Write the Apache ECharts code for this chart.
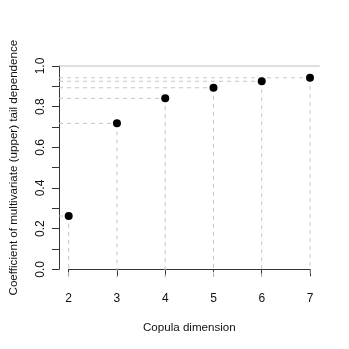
<!DOCTYPE html>
<html>
<head>
<meta charset="utf-8">
<script src="https://cdn.jsdelivr.net/npm/echarts@6/dist/echarts.min.js"></script>
<style>html,body{margin:0;padding:0;background:#fff;}#c{width:349px;height:349px;}</style>
</head>
<body>
<div id="c"></div>
<script>
var dimensions = [2, 3, 4, 5, 6, 7];
var tailDep = [0.262, 0.718, 0.841, 0.893, 0.925, 0.942];
var xTicks = [2, 3, 4, 5, 6, 7];
var yTickLabels = ['0.0', '0.2', '0.4', '0.6', '0.8', '1.0'];
var referenceLevel = [1.0];

var xLo = 1.8, xHi = 7.2, yLo = -0.04;
var pts = dimensions.map(function (d, i) { return [d, tailDep[i]]; });

var chart = echarts.init(document.getElementById('c'), null, {renderer: 'canvas'});
var font = 'Liberation Sans, Arial, Helvetica, sans-serif';
chart.setOption({
  animation: false,
  backgroundColor: '#fff',
  grid: {left: 66.7, right: 39, top: 66, bottom: 79.7, containLabel: false},
  xAxis: {
    type: 'value', min: 2, max: 7, interval: 1, offset: 8.5,
    axisLine: {show: true, lineStyle: {color: '#333', width: 1}},
    axisTick: {show: true, length: 7, lineStyle: {color: '#333'}},
    axisLabel: {color: '#111', fontSize: 12, fontFamily: font, margin: 15,
      formatter: function (v) { return xTicks.indexOf(v) >= 0 ? String(v) : ''; }},
    splitLine: {show: false},
    name: 'Copula dimension', nameLocation: 'middle', nameGap: 44,
    nameTextStyle: {color: '#111', fontSize: 11.6, fontFamily: font}
  },
  yAxis: {
    type: 'value', min: 0, max: 1, interval: 0.1, offset: 9.7,
    axisLine: {show: true, lineStyle: {color: '#333', width: 1}},
    axisTick: {show: true, length: 7, lineStyle: {color: '#333'}},
    axisLabel: {color: '#111', fontSize: 12, fontFamily: font, margin: 12, rotate: 90,
      formatter: function (v) {
        var k = Math.round(v * 10);
        return k % 2 === 0 ? yTickLabels[k / 2] : '';
      }},
    splitLine: {show: false},
    name: 'Coefficient of multivariate (upper) tail dependence', nameLocation: 'middle', nameGap: 39,
    nameTextStyle: {color: '#111', fontSize: 11.6, fontFamily: font}
  },
  series: [
    {
      type: 'custom', z: 1, silent: true,
      data: referenceLevel.map(function (v) { return [v]; }),
      renderItem: function (params, api) {
        var a = api.coord([xLo, api.value(0)]);
        var b = api.coord([xHi, api.value(0)]);
        return {type: 'line', shape: {x1: a[0], y1: a[1], x2: b[0], y2: b[1]},
          style: {stroke: '#bebebe', lineWidth: 1}};
      }
    },
    {
      type: 'custom', z: 2, silent: true,
      data: pts,
      renderItem: function (params, api) {
        var x = api.value(0), y = api.value(1);
        var p = api.coord([x, y]);
        var l = api.coord([xLo, y]);
        var b = api.coord([x, yLo]);
        var st = {stroke: '#c4c4c4', lineWidth: 1, lineDash: [4, 4]};
        return {type: 'group', children: [
          {type: 'line', shape: {x1: l[0], y1: l[1], x2: p[0], y2: p[1]}, style: st},
          {type: 'line', shape: {x1: p[0], y1: p[1], x2: b[0], y2: b[1]}, style: st}
        ]};
      }
    },
    {
      type: 'scatter', z: 3, data: pts, symbol: 'circle', symbolSize: 8,
      itemStyle: {color: '#000', opacity: 1}
    }
  ]
});
</script>
</body>
</html>
